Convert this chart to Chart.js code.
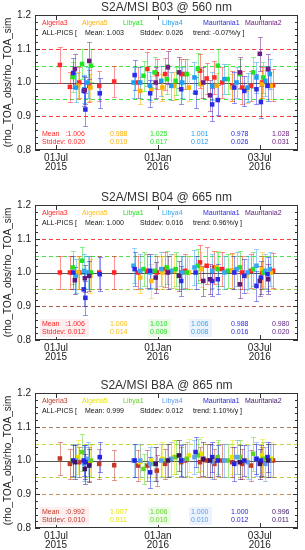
<!DOCTYPE html>
<html>
<head>
<meta charset="utf-8">
<script src="https://cdn.jsdelivr.net/npm/chart.js@4"></script>
<style>
  body { margin: 0; background: #fff; }
  canvas { display: block; }
</style>
</head>
<body>
<canvas id="chartB03" width="305" height="189"></canvas>
<canvas id="chartB04" width="305" height="188"></canvas>
<canvas id="chartB8A" width="305" height="173"></canvas>
<script>
// data: days counted from 01 Jul 2015

const sites = ["Algeria3", "Algeria5", "Libya1", "Libya4", "Mauritania1", "Mauritania2"];

const tickDays = [0, 184, 368];
const tickLabels = [["01Jul", "2015"], ["01Jan", "2016"], ["03Jul", "2016"]];
const refLevels = [1.1, 1.05, 1.0, 0.95, 0.9];

const algeria3Days = [7, 25, 42, 60, 78, 105, 148, 165, 182, 197, 226, 233, 260, 272, 286, 300, 318, 336, 352, 372, 392];
const algeria5Days = [40, 62, 152, 172, 192, 213, 240, 262, 290, 318, 344, 372, 388];
const libya1Days = [30, 47, 63, 158, 178, 200, 216, 236, 256, 292, 310, 332, 356, 374];
const libya4Days = [36, 51, 57, 140, 152, 170, 190, 208, 228, 250, 282, 304, 326, 346, 362, 378, 386];
const mauritania1Days = [31, 50, 53, 79, 142, 170, 226, 252, 282, 292, 322, 340, 362, 370, 382];
const mauritania2Days = [34, 52, 60, 180, 202, 222, 266, 278, 332, 368, 383];

// --- B03 ---
const algeria3B03 = [1.052, 0.987, 1.0, 0.99, 0.99, 1.003, 1.0, 1.04, 1.025, 1.025, 1.025, 1.025, 1.035, 1.012, 1.015, 1.0, 0.99, 0.985, 0.99, 1.0, 0.992];
const algeria3B03Err = [0.052, 0.045, 0.045, 0.048, 0.045, 0.045, 0.045, 0.05, 0.045, 0.048, 0.045, 0.045, 0.05, 0.045, 0.048, 0.045, 0.045, 0.05, 0.045, 0.045, 0.048];
const algeria5B03 = [0.99, 0.985, 0.975, 0.98, 0.985, 0.99, 0.985, 0.995, 0.99, 0.985, 0.98, 0.995, 0.99];
const algeria5B03Err = [0.04, 0.04, 0.04, 0.038, 0.04, 0.042, 0.04, 0.04, 0.038, 0.04, 0.04, 0.042, 0.04];
const libya1B03 = [1.016, 1.055, 1.05, 1.02, 1.03, 1.01, 1.005, 1.025, 1.04, 1.05, 1.01, 1.025, 1.03, 1.015];
const libya1B03Err = [0.045, 0.045, 0.048, 0.045, 0.045, 0.045, 0.042, 0.045, 0.048, 0.05, 0.045, 0.045, 0.045, 0.045];
const libya4B03 = [0.985, 0.98, 1.0, 1.0, 1.0, 0.99, 1.005, 0.99, 1.0, 1.015, 0.99, 1.01, 1.0, 0.985, 1.015, 1.005, 1.025];
const libya4B03Err = [0.042, 0.042, 0.045, 0.045, 0.045, 0.042, 0.045, 0.042, 0.045, 0.045, 0.042, 0.045, 0.045, 0.042, 0.045, 0.045, 0.045];
const mauritania1B03 = [1.028, 0.975, 0.92, 0.968, 1.022, 0.968, 0.98, 0.97, 0.935, 0.948, 0.985, 0.975, 0.98, 0.942, 0.99];
const mauritania1B03Err = [0.045, 0.045, 0.05, 0.045, 0.045, 0.04, 0.045, 0.045, 0.048, 0.045, 0.045, 0.045, 0.045, 0.048, 0.045];
const mauritania2B03 = [1.04, 0.977, 1.064, 1.0, 1.045, 1.03, 1.0, 0.962, 1.03, 1.085, 1.04];
const mauritania2B03Err = [0.045, 0.04, 0.055, 0.045, 0.048, 0.045, 0.045, 0.045, 0.045, 0.05, 0.045];
const b03Means = ["1.006", "0.988", "1.025", "1.001", "0.978", "1.028"];
const b03Stddevs = ["0.020", "0.010", "0.017", "0.012", "0.026", "0.031"];
const b03AllPics = ["1.003", "0.026", "-0.07"];

// --- B04 ---
const algeria3B04 = [1.0, 1.0, 1.0, 1.0, 1.0, 1.0, 1.0, 1.005, 1.0, 1.01, 1.0, 1.005, 1.03, 1.02, 1.015, 1.01, 1.005, 1.0, 1.005, 1.0, 1.005];
const algeria3B04Err = [0.05, 0.05, 0.05, 0.05, 0.05, 0.05, 0.05, 0.05, 0.05, 0.052, 0.05, 0.05, 0.052, 0.055, 0.05, 0.05, 0.052, 0.05, 0.05, 0.05, 0.052];
const algeria5B04 = [1.0, 0.99, 0.985, 0.975, 1.0, 1.005, 1.0, 1.01, 1.015, 1.005, 0.99, 1.01, 1.0];
const algeria5B04Err = [0.05, 0.05, 0.045, 0.05, 0.05, 0.05, 0.05, 0.052, 0.05, 0.05, 0.05, 0.05, 0.05];
const libya1B04 = [1.015, 1.035, 1.0, 1.01, 1.005, 1.015, 1.01, 1.0, 1.02, 1.01, 1.005, 1.015, 1.01, 1.0];
const libya1B04Err = [0.05, 0.04, 0.05, 0.05, 0.05, 0.05, 0.05, 0.05, 0.05, 0.05, 0.05, 0.05, 0.05, 0.05];
const libya4B04 = [0.99, 1.005, 1.0, 1.02, 1.005, 1.0, 1.01, 1.005, 1.0, 1.015, 1.005, 1.0, 1.01, 1.0, 1.02, 1.005, 1.01];
const libya4B04Err = [0.05, 0.05, 0.05, 0.052, 0.05, 0.05, 0.05, 0.05, 0.05, 0.052, 0.05, 0.05, 0.05, 0.05, 0.05, 0.05, 0.05];
const mauritania1B04 = [1.0, 0.95, 0.925, 0.995, 1.01, 1.005, 0.975, 1.0, 0.975, 0.98, 1.0, 0.99, 0.96, 0.985, 0.995];
const mauritania1B04Err = [0.05, 0.05, 0.05, 0.05, 0.05, 0.05, 0.045, 0.05, 0.045, 0.045, 0.05, 0.05, 0.045, 0.05, 0.05];
const mauritania2B04 = [0.977, 0.983, 0.99, 0.985, 1.0, 0.99, 0.975, 0.98, 0.965, 0.975, 0.98];
const mauritania2B04Err = [0.04, 0.04, 0.045, 0.045, 0.05, 0.045, 0.045, 0.045, 0.04, 0.045, 0.045];
const b04Means = ["1.006", "1.000", "1.010", "1.006", "0.988", "0.980"];
const b04Stddevs = ["0.012", "0.014", "0.009", "0.008", "0.016", "0.020"];
const b04AllPics = ["1.000", "0.016", "0.96"];

// --- B8A ---
const algeria3B8A = [1.006, 0.99, 0.995, 0.99, 0.99, 0.986, 0.985, 0.985, 0.97, 0.99, 0.995, 1.0, 0.995, 1.0, 0.99, 1.0, 0.995, 0.99, 0.985, 0.995, 1.0];
const algeria3B8AErr = [0.05, 0.045, 0.045, 0.05, 0.045, 0.045, 0.045, 0.045, 0.045, 0.045, 0.045, 0.05, 0.045, 0.05, 0.045, 0.05, 0.045, 0.045, 0.045, 0.045, 0.05];
const algeria5B8A = [1.01, 1.0, 0.995, 1.0, 1.005, 1.01, 1.015, 1.02, 1.005, 1.01, 1.0, 1.015, 1.005];
const algeria5B8AErr = [0.05, 0.05, 0.05, 0.05, 0.05, 0.05, 0.05, 0.05, 0.05, 0.05, 0.05, 0.05, 0.05];
const libya1B8A = [1.0, 1.025, 1.0, 0.975, 0.99, 1.0, 1.01, 1.005, 1.015, 1.01, 1.0, 1.01, 1.02, 1.005];
const libya1B8AErr = [0.05, 0.055, 0.05, 0.045, 0.05, 0.05, 0.05, 0.05, 0.05, 0.05, 0.05, 0.05, 0.05, 0.05];
const libya4B8A = [1.0, 0.99, 1.005, 1.0, 1.0, 0.99, 1.0, 1.005, 1.0, 1.01, 0.995, 1.0, 1.01, 0.995, 1.005, 0.99, 1.0];
const libya4B8AErr = [0.05, 0.05, 0.05, 0.05, 0.05, 0.05, 0.05, 0.05, 0.05, 0.05, 0.05, 0.05, 0.05, 0.05, 0.05, 0.05, 0.05];
const mauritania1B8A = [1.0, 1.0, 0.995, 1.01, 1.0, 0.965, 1.0, 1.025, 1.01, 1.0, 0.99, 1.0, 1.005, 1.0, 1.01];
const mauritania1B8AErr = [0.045, 0.045, 0.05, 0.045, 0.05, 0.045, 0.045, 0.045, 0.045, 0.045, 0.05, 0.045, 0.045, 0.045, 0.045];
const mauritania2B8A = [0.995, 0.975, 0.985, 0.99, 1.0, 1.015, 1.005, 1.0, 0.995, 0.99, 1.0];
const mauritania2B8AErr = [0.05, 0.045, 0.05, 0.05, 0.05, 0.045, 0.05, 0.05, 0.05, 0.045, 0.05];
const b8aMeans = ["0.992", "1.007", "1.006", "1.000", "1.000", "0.996"];
const b8aStddevs = ["0.010", "0.011", "0.010", "0.010", "0.012", "0.011"];
const b8aAllPics = ["0.999", "0.012", "1.10"];

const siteDays = [algeria3Days, algeria5Days, libya1Days, libya4Days, mauritania1Days, mauritania2Days];

// --------------- layout / style ---------------
const FONT = '"Liberation Sans", Arial, sans-serif';
const legendX = [42, 82, 123, 162, 203, 245];
const statX = [110, 150, 191, 231, 272];

const panelPlugin = {
  id: "panel",
  beforeDatasetsDraw(chart, args, p) {
    const { ctx, chartArea: a, scales: { x, y } } = chart;
    // reference lines
    refLevels.forEach((v, i) => {
      const py = Math.round(y.getPixelForValue(v)) + 0.5;
      ctx.save();
      ctx.strokeStyle = p.refColors[i];
      ctx.lineWidth = 1;
      ctx.setLineDash(v === 1 ? [] : [4, 3]);
      ctx.beginPath();
      ctx.moveTo(a.left, py);
      ctx.lineTo(a.right, py);
      ctx.stroke();
      ctx.restore();
    });
    // error bars
    chart.data.datasets.forEach((ds) => {
      ctx.save();
      ctx.strokeStyle = ds.barColor;
      ctx.lineWidth = 1;
      ds.data.forEach((pt, i) => {
        const px = Math.round(x.getPixelForValue(pt.x)) + 0.5;
        const lo = Math.round(y.getPixelForValue(pt.y - ds.errors[i])) + 0.5;
        const hi = Math.round(y.getPixelForValue(pt.y + ds.errors[i])) + 0.5;
        ctx.beginPath();
        ctx.moveTo(px, lo);
        ctx.lineTo(px, hi);
        ctx.moveTo(px - 2.5, lo);
        ctx.lineTo(px + 2.5, lo);
        ctx.moveTo(px - 2.5, hi);
        ctx.lineTo(px + 2.5, hi);
        ctx.stroke();
      });
      ctx.restore();
    });
  },
  afterDraw(chart, args, p) {
    const { ctx, chartArea: a, scales: { x, y } } = chart;
    ctx.save();
    // frame
    ctx.strokeStyle = "#333";
    ctx.lineWidth = 1;
    ctx.strokeRect(a.left + 0.5, a.top + 0.5, a.right - a.left - 1, a.bottom - a.top - 1);
    // inward ticks
    ctx.beginPath();
    for (let k = 40; k <= 60; k++) {
      const py = Math.round(y.getPixelForValue(k / 50)) + 0.5;
      const len = k % 5 === 0 ? 5 : 3;
      ctx.moveTo(a.left, py);
      ctx.lineTo(a.left + len, py);
      ctx.moveTo(a.right, py);
      ctx.lineTo(a.right - len, py);
    }
    tickDays.forEach((d) => {
      const px = Math.round(x.getPixelForValue(d)) + 0.5;
      ctx.moveTo(px, a.bottom);
      ctx.lineTo(px, a.bottom - 5);
      ctx.moveTo(px, a.top);
      ctx.lineTo(px, a.top + 5);
    });
    ctx.stroke();

    // title
    ctx.fillStyle = "#333";
    ctx.font = "12px " + FONT;
    ctx.textAlign = "center";
    ctx.textBaseline = "middle";
    ctx.fillText(p.title, (a.left + a.right) / 2, a.top - 7.5);

    // legend + ALL-PICS row
    ctx.font = "7px " + FONT;
    ctx.textAlign = "left";
    sites.forEach((s, i) => {
      ctx.fillStyle = p.colors[i];
      ctx.fillText(s, legendX[i], a.top + 8.5);
    });
    ctx.fillStyle = "#111";
    ctx.fillText("ALL-PICS [", 42, a.top + 18);
    ctx.fillText("Mean: " + p.allPics[0], 85, a.top + 18);
    ctx.fillText("Stddev: " + p.allPics[1], 140, a.top + 18);
    ctx.fillText("trend: " + p.allPics[2] + "%/y ]", 193, a.top + 18);

    // stats
    if (p.statBg) {
      p.statBg.forEach((c, i) => {
        if (!c) return;
        ctx.fillStyle = c;
        if (i === 0) ctx.fillRect(40, a.top + 114, 49, 18);
        else ctx.fillRect(statX[i - 1] - 2, a.top + 114, 23, 18);
      });
    }
    ctx.fillStyle = p.colors[0];
    ctx.fillText("Mean   :" + p.means[0], 42, a.top + 119.5);
    ctx.fillText("Stddev: " + p.stddevs[0], 42, a.top + 127);
    for (let i = 1; i < sites.length; i++) {
      ctx.fillStyle = p.colors[i];
      ctx.fillText(p.means[i], statX[i - 1], a.top + 119.5);
      ctx.fillText(p.stddevs[i], statX[i - 1], a.top + 127);
    }
    ctx.restore();
  },
};

function makePanel(id, cfg) {
  const canvas = document.getElementById(id);
  const H = canvas.height;
  const datasets = sites.map((s, i) => ({
    label: s,
    data: siteDays[i].map((d, j) => ({ x: d, y: cfg.values[i][j] })),
    errors: cfg.errors[i],
    backgroundColor: cfg.colors[i],
    borderColor: cfg.colors[i],
    barColor: cfg.colors[i] + "80",
    pointStyle: "rect",
    pointRadius: 3.2,
    pointBorderWidth: 0,
    order: sites.length - i,
  }));

  return new Chart(canvas.getContext("2d"), {
    type: "scatter",
    data: { datasets },
    options: {
      responsive: false,
      animation: false,
      devicePixelRatio: 1,
      layout: { padding: { top: cfg.top, right: 7, left: 0, bottom: 0 } },
      plugins: {
        legend: { display: false },
        tooltip: { enabled: false },
        panel: cfg,
      },
      scales: {
        x: {
          type: "linear",
          min: -38,
          max: 437,
          afterBuildTicks: (s) => {
            s.ticks = tickDays.map((v) => ({ value: v }));
          },
          afterFit: (s) => {
            s.height = H - cfg.top - 135;
          },
          ticks: {
            callback: (v, i) => tickLabels[i],
            font: { family: FONT, size: 10, lineHeight: 0.85 },
            color: "#222",
            autoSkip: false,
            maxRotation: 0,
            padding: 4,
          },
          grid: { display: false, drawTicks: false },
          border: { display: false },
        },
        y: {
          min: 0.8,
          max: 1.2,
          afterFit: (s) => {
            s.width = 35;
          },
          ticks: {
            stepSize: 0.1,
            callback: (v) => v.toFixed(1),
            font: { family: FONT, size: 10 },
            color: "#222",
            padding: 4,
          },
          grid: { display: false, drawTicks: false },
          border: { display: false },
          title: {
            display: true,
            text: "(rho_TOA_obs/rho_TOA_sim",
            font: { family: FONT, size: 10 },
            color: "#222",
            padding: { top: 2, bottom: 0 },
          },
        },
      },
    },
    plugins: [panelPlugin],
  });
}

makePanel("chartB03", {
  top: 15,
  title: "S2A/MSI B03 @ 560 nm",
  values: [algeria3B03, algeria5B03, libya1B03, libya4B03, mauritania1B03, mauritania2B03],
  errors: [algeria3B03Err, algeria5B03Err, libya1B03Err, libya4B03Err, mauritania1B03Err, mauritania2B03Err],
  colors: ["#ff2a2a", "#ffb000", "#22e622", "#1e9ef0", "#2a2ae8", "#701c84"],
  refColors: ["#ff3c3c", "#3ce63c", "#555555", "#3ce63c", "#ff3c3c"],
  means: b03Means,
  stddevs: b03Stddevs,
  allPics: b03AllPics,
});

makePanel("chartB04", {
  top: 16,
  title: "S2A/MSI B04 @ 665 nm",
  values: [algeria3B04, algeria5B04, libya1B04, libya4B04, mauritania1B04, mauritania2B04],
  errors: [algeria3B04Err, algeria5B04Err, libya1B04Err, libya4B04Err, mauritania1B04Err, mauritania2B04Err],
  colors: ["#ff2424", "#ffbe10", "#24e024", "#34a8f0", "#2a2ae8", "#5c1a7c"],
  refColors: ["#ff4040", "#4ce04c", "#555555", "#a0c850", "#b06050"],
  statBg: ["#fdeef0", null, "#eefaea", "#edf3fd", null, null],
  means: b04Means,
  stddevs: b04Stddevs,
  allPics: b04AllPics,
});

makePanel("chartB8A", {
  top: 16,
  title: "S2A/MSI B8A @ 865 nm",
  values: [algeria3B8A, algeria5B8A, libya1B8A, libya4B8A, mauritania1B8A, mauritania2B8A],
  errors: [algeria3B8AErr, algeria5B8AErr, libya1B8AErr, libya4B8AErr, mauritania1B8AErr, mauritania2B8AErr],
  colors: ["#c03a26", "#e8e400", "#64d424", "#5ca0f0", "#2424e0", "#3c1466"],
  refColors: ["#b08060", "#c0d840", "#555555", "#b8d040", "#c09060"],
  statBg: ["#fdeef0", null, "#eefaea", "#edf3fd", null, null],
  means: b8aMeans,
  stddevs: b8aStddevs,
  allPics: b8aAllPics,
});
</script>
</body>
</html>
